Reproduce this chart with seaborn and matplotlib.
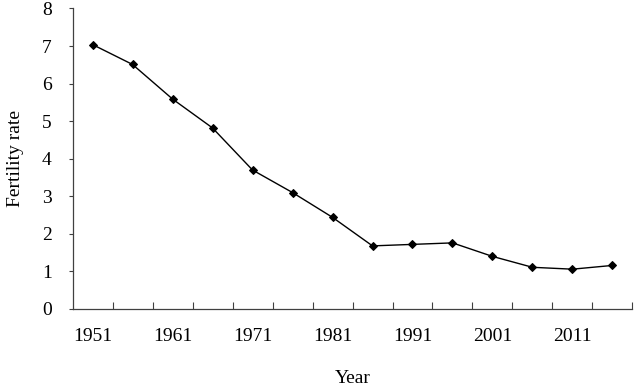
import numpy as np
import pandas as pd
import seaborn as sns
import matplotlib.pyplot as plt
from matplotlib.ticker import FixedLocator

# values
years = [1951, 1956, 1961, 1966, 1971, 1976, 1981, 1986, 1991, 1996, 2001, 2006, 2011, 2016]
fertility = [7.04, 6.51, 5.59, 4.82, 3.70, 3.10, 2.44, 1.68, 1.72, 1.76, 1.40, 1.11, 1.06, 1.16]
tick_labels = ["1951", "1961", "1971", "1981", "1991", "2001", "2011"]

df = pd.DataFrame({"pos": np.arange(len(years)), "year": years, "rate": fertility})

sns.set_style("ticks")
plt.rcParams["font.family"] = ["Liberation Serif", "DejaVu Serif"]
plt.rcParams["text.color"] = "black"
plt.rcParams["axes.labelcolor"] = "black"
plt.rcParams["xtick.labelcolor"] = "black"
plt.rcParams["ytick.labelcolor"] = "black"

fs = 14

fig = plt.figure(figsize=(6.34, 3.86), dpi=100)
ax = fig.add_axes([0.1144, 0.1995, 0.8832, 0.7785])

sns.lineplot(data=df, x="pos", y="rate", ax=ax, color="black", linewidth=1.0,
             marker="D", markersize=4.5, markeredgecolor="black")

# category axis like a spreadsheet chart: labels every other year, ticks between categories
ax.set_xlim(-0.5, len(years) - 0.5)
ax.set_xticks(np.arange(0, len(years), 2))
ax.set_xticklabels(tick_labels)
ax.xaxis.set_minor_locator(FixedLocator(np.arange(0.5, len(years), 1)))
ax.tick_params(axis="x", which="major", length=0, pad=14, labelsize=fs)
ax.tick_params(axis="x", which="minor", direction="in", length=5, width=0.8, color="#404040")

ax.set_ylim(0, 8)
ax.set_yticks(range(0, 9))
ax.tick_params(axis="y", direction="out", length=3, width=0.8, pad=12, labelsize=fs, color="#404040")

for side in ["top", "right"]:
    ax.spines[side].set_visible(False)
for side in ["left", "bottom"]:
    ax.spines[side].set_color("#404040")
    ax.spines[side].set_linewidth(0.9)

ax.set_xlabel("Year", fontsize=fs, labelpad=18)
ax.set_ylabel("Fertility rate", fontsize=fs, labelpad=13)

fig.savefig("out.png", dpi=100)
